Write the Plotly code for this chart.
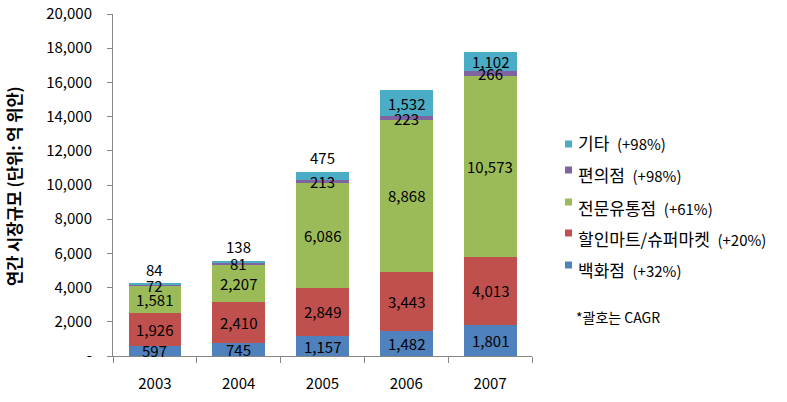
import plotly.graph_objects as go

years = ["2003", "2004", "2005", "2006", "2007"]
series_names = ["백화점", "할인마트/슈퍼마켓", "전문유통점", "편의점", "기타"]
cagr_labels = ["(+32%)", "(+20%)", "(+61%)", "(+98%)", "(+98%)"]
dept_store = [597, 745, 1157, 1482, 1801]
discount_mart = [1926, 2410, 2849, 3443, 4013]
specialty = [1581, 2207, 6086, 8868, 10573]
convenience = [72, 81, 213, 223, 266]
others = [84, 138, 475, 1532, 1102]
y_tickvals = [0, 2000, 4000, 6000, 8000, 10000, 12000, 14000, 16000, 18000, 20000]
y_ticktext = ["-", "2,000", "4,000", "6,000", "8,000", "10,000", "12,000", "14,000", "16,000", "18,000", "20,000"]

values = [dept_store, discount_mart, specialty, convenience, others]
colors = ["#4F81BD", "#C0504D", "#9BBB59", "#8064A2", "#4BACC6"]

FONT = "Malgun Gothic, Noto Sans CJK KR, sans-serif"
W, H = 787, 402
L, R, T, B = 113, 532, 14, 356  # plot area in pixels

def px_x(px):
    return (px - L) / (R - L)

def px_y(py):
    return (B - py) / (B - T)

fig = go.Figure()
for name, vals, col in zip(series_names, values, colors):
    fig.add_trace(go.Bar(x=years, y=vals, name=name, marker=dict(color=col, line=dict(width=0)),
                         showlegend=False, hoverinfo="x+y+name"))

# data labels (x given as category index)
annotations = []
cum = [0] * len(years)
for si, vals in enumerate(values):
    for i, v in enumerate(vals):
        top_series = si == len(values) - 1
        if top_series and v < 800:
            annotations.append(dict(x=i, y=cum[i] + v, text=f"{v:,}", showarrow=False,
                                    yanchor="middle", yshift=14, font=dict(size=15, color="#000000", family=FONT)))
        else:
            annotations.append(dict(x=i, y=cum[i] + v / 2, text=f"{v:,}", showarrow=False,
                                    yanchor="middle", font=dict(size=15, color="#000000", family=FONT)))
        cum[i] += v

# manual legend (top item = last series)
text_centers = [269, 238, 207, 175, 143]
square_centers = [265, 233, 202, 170, 144]
shapes = []
for si in range(len(series_names)):
    sc = square_centers[si]
    shapes.append(dict(type="rect", xref="paper", yref="paper",
                       x0=px_x(565), x1=px_x(572), y0=px_y(sc + 3.5), y1=px_y(sc - 3.5),
                       fillcolor=colors[si], line=dict(width=0)))
    annotations.append(dict(xref="paper", yref="paper", x=px_x(576), y=px_y(text_centers[si]),
                            xanchor="left", yanchor="middle", showarrow=False,
                            text=f"{series_names[si]}\u00a0\u00a0<span style='font-size:15px'>{cagr_labels[si]}</span>",
                            font=dict(size=17, color="#000000", family=FONT)))
annotations.append(dict(xref="paper", yref="paper", x=px_x(574), y=px_y(317),
                        xanchor="left", yanchor="middle", showarrow=False,
                        text="*괄호는 CAGR", font=dict(size=14, color="#000000", family=FONT)))
# y-axis title
annotations.append(dict(xref="paper", yref="paper", x=px_x(14), y=px_y(186),
                        xanchor="center", yanchor="middle", showarrow=False, textangle=-90,
                        text="<b>연간 시장규모 (단위: 억 위안)</b>",
                        font=dict(size=16.5, color="#000000", family=FONT)))

fig.update_layout(
    width=W, height=H,
    margin=dict(l=L, r=W - R, t=T, b=H - B, pad=0),
    barmode="stack", bargap=0.37,
    plot_bgcolor="white", paper_bgcolor="white",
    font=dict(family=FONT, size=15, color="#000000"),
    annotations=annotations, shapes=shapes,
    xaxis=dict(type="category", range=[-0.5, 4.5], automargin=False,
               showline=True, linecolor="#868686", linewidth=1,
               ticks="outside", tickson="boundaries", ticklen=6, tickcolor="#868686",
               ticklabelstandoff=14,
               tickfont=dict(size=15, family=FONT), showgrid=False),
    yaxis=dict(range=[0, 20000], tickvals=y_tickvals, ticktext=y_ticktext, automargin=False,
               showline=True, linecolor="#868686", linewidth=1,
               ticks="outside", ticklen=5, tickcolor="#868686", showgrid=False, zeroline=False,
               ticklabelstandoff=12,
               tickfont=dict(size=15, family=FONT)),
)

fig.write_html("out.html", config={"displayModeBar": False},
               post_script="document.body.style.margin='0';document.body.style.overflow='hidden';")
